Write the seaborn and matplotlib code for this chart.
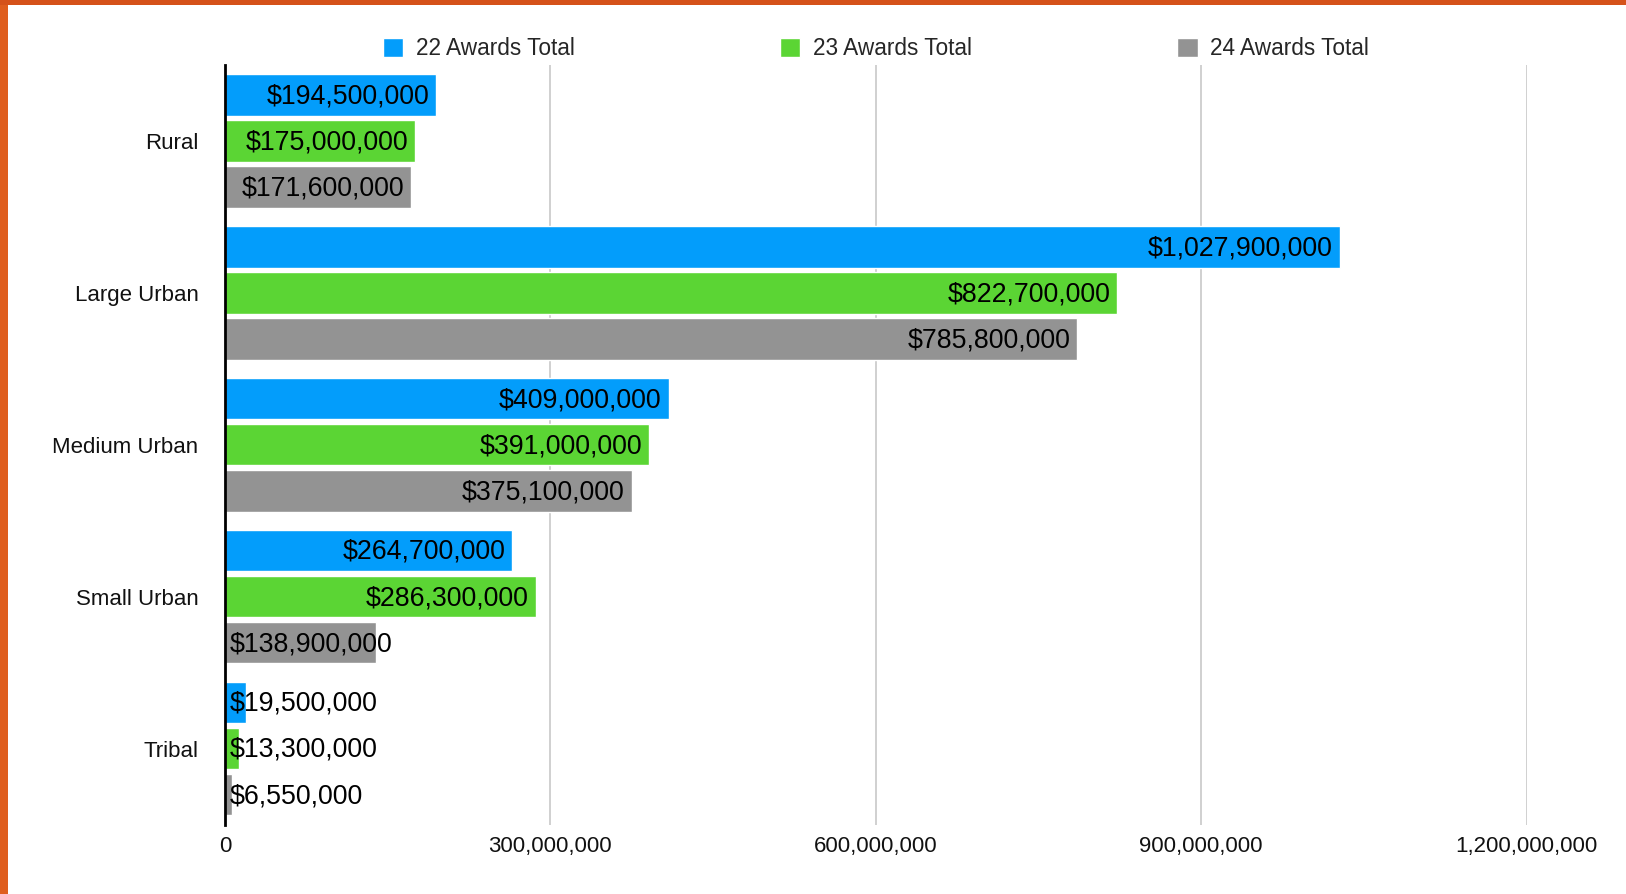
import matplotlib
matplotlib.use("Agg")
import matplotlib.pyplot as plt
import seaborn as sns
import pandas as pd
from matplotlib.patches import Rectangle
from matplotlib.ticker import FuncFormatter

categories = ["Rural", "Large Urban", "Medium Urban", "Small Urban", "Tribal"]
series_names = ["22 Awards Total", "23 Awards Total", "24 Awards Total"]
awards_22 = [194500000, 1027900000, 409000000, 264700000, 19500000]
awards_23 = [175000000, 822700000, 391000000, 286300000, 13300000]
awards_24 = [171600000, 785800000, 375100000, 138900000, 6550000]
colors = ["#039DFB", "#5BD534", "#939393"]
x_ticks = [0, 300000000, 600000000, 900000000, 1200000000]

rows = []
for name, vals in zip(series_names, [awards_22, awards_23, awards_24]):
    for c, v in zip(categories, vals):
        rows.append({"Category": c, "Series": name, "Value": v})
df = pd.DataFrame(rows)

sns.set_theme(style="white")
plt.rcParams["font.family"] = ["Liberation Sans", "DejaVu Sans"]

fig = plt.figure(figsize=(16.26, 8.94), dpi=100)
fig.patch.set_facecolor("white")
ax = fig.add_axes([225 / 1626, 1 - 824.5 / 894, (1526.6 - 225) / 1626, (824.5 - 65) / 894])

sns.barplot(data=df, x="Value", y="Category", hue="Series", order=categories,
            hue_order=series_names, palette=colors, orient="h", width=0.91,
            gap=0.1, saturation=1, errorbar=None, ax=ax)

handles, labels = ax.get_legend_handles_labels()
if ax.get_legend() is not None:
    ax.get_legend().remove()

ax.set_xlim(0, 1200000000)
ax.set_ylim(4.5, -0.5)
ax.set_xticks(x_ticks)
ax.xaxis.set_major_formatter(FuncFormatter(lambda v, p: f"{int(v):,}"))
ax.set_xlabel("")
ax.set_ylabel("")
ax.grid(axis="x", color="#C8C8C8", linewidth=1.2)
ax.grid(axis="y", visible=False)
ax.set_axisbelow(True)
for s in ["top", "right", "bottom"]:
    ax.spines[s].set_visible(False)
ax.spines["left"].set_color("black")
ax.spines["left"].set_linewidth(2)
ax.spines["left"].set_zorder(5)
ax.tick_params(axis="x", length=0, pad=8, labelsize=16, labelcolor="#111111")
ax.tick_params(axis="y", length=0, pad=19, labelsize=16, labelcolor="#111111")

gl = ax.get_xgridlines()
if gl:
    gl[0].set_visible(False)

fig.canvas.draw()
renderer = fig.canvas.get_renderer()
for cont in ax.containers:
    for bar in cont:
        w = bar.get_width()
        yc = bar.get_y() + bar.get_height() / 2
        label = f"${int(round(w)):,}"
        t = ax.annotate(label, xy=(w, yc), xytext=(-5, -1), textcoords="offset points",
                        ha="right", va="center", fontsize=19.3, color="black", zorder=6)
        bb = t.get_window_extent(renderer)
        x0_disp = ax.transData.transform((0, yc))[0]
        if bb.x0 < x0_disp + 3:
            t.remove()
            ax.annotate(label, xy=(0, yc), xytext=(3.5, -1), textcoords="offset points",
                        ha="left", va="center", fontsize=19.3, color="black", zorder=6)

fig.legend(handles, labels, loc="center left", bbox_to_anchor=(382.6 / 1626, 1 - 48.5 / 894),
           ncol=3, frameon=False, fontsize=16.3, handlelength=0.92, handleheight=0.92,
           handletextpad=0.55, columnspacing=9.05, borderpad=0, borderaxespad=0)

# orange frame
fig.patches.append(Rectangle((0, 0), 8 / 1626, 1, transform=fig.transFigure,
                             facecolor="#DF5E1E", edgecolor="none", zorder=10))
fig.patches.append(Rectangle((0, 1 - 5 / 894), 1, 5 / 894, transform=fig.transFigure,
                             facecolor="#D5521A", edgecolor="none", zorder=10))

fig.savefig("out.png", dpi=100)
